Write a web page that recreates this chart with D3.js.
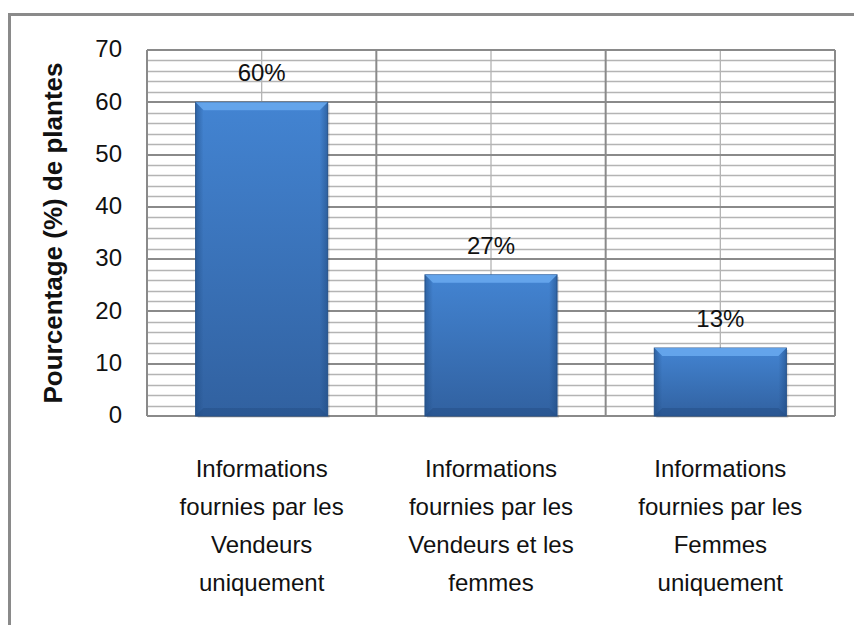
<!DOCTYPE html>
<html>
<head>
<meta charset="utf-8">
<script src="https://cdn.jsdelivr.net/npm/d3@7"></script>
<style>
  html, body { margin: 0; padding: 0; background: #fff; }
  svg { display: block; }
  text { font-family: 'Liberation Sans', Arial, sans-serif; fill: #111; }
</style>
</head>
<body>
<div id="chart"></div>
<script>
// Chart data
const categories = [
  ['Informations', 'fournies par les', 'Vendeurs', 'uniquement'],
  ['Informations', 'fournies par les', 'Vendeurs et les', 'femmes'],
  ['Informations', 'fournies par les', 'Femmes', 'uniquement'],
];
const values = [60, 27, 13];
const valueLabels = ['60%', '27%', '13%'];
const yTicks = [0, 10, 20, 30, 40, 50, 60, 70];
const yTitle = 'Pourcentage (%) de plantes';

const width = 854;
const height = 625;
const plot = { left: 147, right: 835, top: 50, bottom: 416 };

function drawChart() {
  const svg = d3.select('#chart').append('svg').attr('width', width).attr('height', height);

  // bar gradients
  const defs = svg.append('defs');
  const grad = defs.append('linearGradient').attr('id', 'barFill').attr('x1', 0).attr('y1', 0).attr('x2', 0).attr('y2', 1);
  grad.append('stop').attr('offset', '0%').attr('stop-color', '#4384d2');
  grad.append('stop').attr('offset', '100%').attr('stop-color', '#3161a0');
  const side = defs.append('linearGradient').attr('id', 'sideFill').attr('x1', 0).attr('y1', 0).attr('x2', 1).attr('y2', 0);
  side.append('stop').attr('offset', '0%').attr('stop-color', '#1f4a80').attr('stop-opacity', 0.55);
  side.append('stop').attr('offset', '6%').attr('stop-color', '#1f4a80').attr('stop-opacity', 0);
  side.append('stop').attr('offset', '94%').attr('stop-color', '#1f4a80').attr('stop-opacity', 0);
  side.append('stop').attr('offset', '100%').attr('stop-color', '#1f4a80').attr('stop-opacity', 0.55);

  // outer chart border
  svg.append('path')
    .attr('d', `M9.5,${height}V14.5H${width}`)
    .attr('fill', 'none').attr('stroke', '#8a8a8a').attr('stroke-width', 3);

  const x = d3.scaleBand()
    .domain(d3.range(categories.length))
    .range([plot.left, plot.right])
    .paddingInner(0.424)
    .paddingOuter(0.212);

  const y = d3.scaleLinear().domain([0, 70]).range([plot.bottom, plot.top]);

  const grid = svg.append('g');

  // minor horizontal gridlines
  grid.selectAll('line.minor')
    .data(y.ticks(35).filter((t) => t % 10 !== 0))
    .enter().append('line')
    .attr('x1', plot.left).attr('x2', plot.right)
    .attr('y1', (d) => Math.round(y(d)) + 0.5).attr('y2', (d) => Math.round(y(d)) + 0.5)
    .attr('stroke', '#b4b4b4').attr('stroke-width', 1.3);

  // category centre lines
  grid.selectAll('line.vc')
    .data(d3.range(categories.length))
    .enter().append('line')
    .attr('x1', (d) => x(d) + x.bandwidth() / 2).attr('x2', (d) => x(d) + x.bandwidth() / 2)
    .attr('y1', plot.top).attr('y2', plot.bottom)
    .attr('stroke', '#b4b4b4').attr('stroke-width', 1.3);

  // category boundaries
  const step = x.step();
  grid.selectAll('line.vb')
    .data(d3.range(categories.length + 1))
    .enter().append('line')
    .attr('x1', (d) => plot.left + d * step).attr('x2', (d) => plot.left + d * step)
    .attr('y1', plot.top).attr('y2', plot.bottom)
    .attr('stroke', '#8a8a8a').attr('stroke-width', 2);

  // major horizontal gridlines
  grid.selectAll('line.major')
    .data(yTicks)
    .enter().append('line')
    .attr('x1', plot.left).attr('x2', plot.right)
    .attr('y1', (d) => Math.round(y(d))).attr('y2', (d) => Math.round(y(d)))
    .attr('stroke', '#8a8a8a').attr('stroke-width', 2);

  // bars
  const bars = svg.selectAll('g.bar')
    .data(values)
    .enter().append('g')
    .attr('class', 'bar');

  bars.append('rect')
    .attr('x', (d, i) => x(i) + 2).attr('y', (d) => y(d) + 2)
    .attr('width', x.bandwidth()).attr('height', (d) => y(0) - y(d))
    .attr('fill', '#000').attr('opacity', 0.12);

  bars.append('rect')
    .attr('x', (d, i) => x(i)).attr('y', (d) => y(d))
    .attr('width', x.bandwidth()).attr('height', (d) => y(0) - y(d))
    .attr('fill', 'url(#barFill)').attr('stroke', '#2b578f').attr('stroke-width', 1);

  bars.append('rect')
    .attr('x', (d, i) => x(i)).attr('y', (d) => y(d))
    .attr('width', x.bandwidth()).attr('height', (d) => y(0) - y(d))
    .attr('fill', 'url(#sideFill)');

  // top bevel highlight
  bars.append('path')
    .attr('d', (d, i) => {
      const x0 = x(i), x1 = x(i) + x.bandwidth(), t = y(d);
      return `M${x0},${t}H${x1}L${x1 - 8},${t + 8}H${x0 + 8}Z`;
    })
    .attr('fill', '#6aaaf0').attr('opacity', 0.85);

  // bottom bevel
  bars.append('path')
    .attr('d', (d, i) => {
      const x0 = x(i), x1 = x(i) + x.bandwidth(), b = y(0);
      return `M${x0},${b}H${x1}L${x1 - 8},${b - 8}H${x0 + 8}Z`;
    })
    .attr('fill', '#234d85').attr('opacity', 0.5);

  // value labels
  svg.selectAll('text.val')
    .data(values)
    .enter().append('text')
    .attr('x', (d, i) => x(i) + x.bandwidth() / 2)
    .attr('y', (d) => y(d) - 21)
    .attr('text-anchor', 'middle')
    .style('font-size', '24px')
    .text((d, i) => valueLabels[i]);

  // y axis
  const yAxis = svg.append('g')
    .attr('transform', 'translate(122,0)')
    .call(d3.axisLeft(y).tickValues(yTicks).tickSize(0).tickPadding(0));
  yAxis.select('.domain').remove();
  yAxis.selectAll('text')
    .attr('dy', '0.28em')
    .style('font-family', "'Liberation Sans', Arial, sans-serif")
    .style('font-size', '24px')
    .attr('fill', '#111');

  // y title
  svg.append('text')
    .attr('transform', `translate(62,${(plot.top + plot.bottom) / 2 + 0}) rotate(-90)`)
    .attr('text-anchor', 'middle')
    .style('font-size', '26px')
    .style('font-weight', 'bold')
    .text(yTitle);

  // category labels
  const lineBase = [477, 515, 553, 591];
  const cat = svg.selectAll('text.cat')
    .data(categories)
    .enter().append('text')
    .attr('text-anchor', 'middle')
    .style('font-size', '24px');
  cat.selectAll('tspan')
    .data((d, i) => d.map((s) => ({ s, i })))
    .enter().append('tspan')
    .attr('x', (d) => x(d.i) + x.bandwidth() / 2)
    .attr('y', (d, j) => lineBase[j])
    .text((d) => d.s);
}

document.addEventListener('DOMContentLoaded', drawChart);
</script>
</body>
</html>
